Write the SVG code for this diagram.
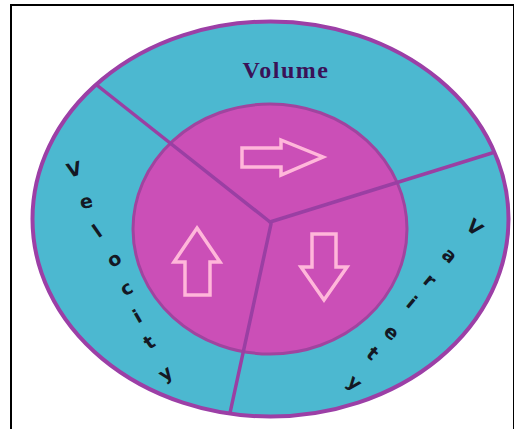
<svg xmlns="http://www.w3.org/2000/svg" width="514" height="429" viewBox="0 0 514 429">
<style>
.ring{fill:#4cb8d0;stroke:#9c3fa6;stroke-width:4}
.core{fill:#cb4fb7;stroke:#a0449f;stroke-width:3}
.div{stroke:#9a3fa3;stroke-width:3.5;fill:none;stroke-linecap:round}
.arr{fill:none;stroke:#ffb7da;stroke-width:3.5;stroke-linejoin:miter}
.vol{font-family:"Liberation Serif",serif;font-weight:bold;font-size:24px;fill:#3a1257;letter-spacing:1.5px}
.lt{font-family:"DejaVu Sans","Liberation Sans",sans-serif;font-weight:bold;font-size:19px;fill:#141824;text-anchor:middle;dominant-baseline:central}
</style>
<rect x="11" y="5" width="503" height="430" fill="#fff" stroke="#000" stroke-width="2"/>
<g id="rings">
<ellipse class="ring" cx="270.5" cy="219" rx="238" ry="197.5"/>
<ellipse class="core" cx="270" cy="229" rx="137" ry="125"/>
</g>
<g id="connectors">
<line class="div" x1="270" y1="222" x2="98" y2="86"/>
<line class="div" x1="270" y1="222" x2="492" y2="153"/>
<line class="div" x1="271" y1="224" x2="230" y2="413"/>
</g>
<g id="volume">
<text class="vol" x="286" y="78" text-anchor="middle">Volume</text>
<polygon class="arr" points="242,148 281,148 281,140 323,157 281,175 281,167 242,167"/>
</g>
<g id="velocity">
<polygon class="arr" points="197,228 220,262 210,262 210,295 185,295 185,262 174,262"/>
<text class="lt" transform="translate(74,169) rotate(-15)">V</text>
<text class="lt" transform="translate(86,201) rotate(-10)">e</text>
<text class="lt" transform="translate(97,231) rotate(-35)">l</text>
<text class="lt" transform="translate(114,259) rotate(-30)">o</text>
<text class="lt" transform="translate(126,288) rotate(-30)">c</text>
<text class="lt" transform="translate(137,316) rotate(-30)">i</text>
<text class="lt" transform="translate(149,342) rotate(-35)">t</text>
<text class="lt" transform="translate(165,373) rotate(-35)">y</text>
</g>
<g id="variety">
<polygon class="arr" points="312,234 336,234 336,267 347,267 324,300 301,267 312,267"/>
<text class="lt" transform="translate(475,227) rotate(40)">V</text>
<text class="lt" transform="translate(450,255) rotate(40)">a</text>
<text class="lt" transform="translate(430,280) rotate(40)">r</text>
<text class="lt" transform="translate(412,302) rotate(40)">i</text>
<text class="lt" transform="translate(392,332) rotate(40)">e</text>
<text class="lt" transform="translate(373,353) rotate(40)">t</text>
<text class="lt" transform="translate(355,382) rotate(40)">y</text>
</g>
</svg>
